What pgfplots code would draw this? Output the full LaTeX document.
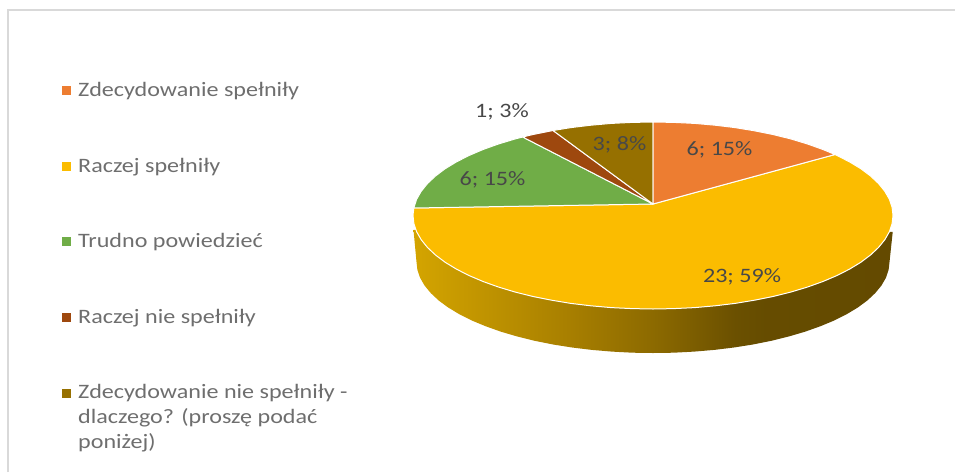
\documentclass[border=0pt]{standalone}
\usepackage{pgfplots}
\pgfplotsset{compat=1.18}
\usepackage{fontspec}
\setmainfont[FakeStretch=1.175]{Carlito}
\definecolor{cOrange}{HTML}{ED7D31}
\definecolor{cYellow}{HTML}{FBBC00}
\definecolor{cGreen}{HTML}{70AD47}
\definecolor{cBrown}{HTML}{9E480E}
\definecolor{cDark}{HTML}{967000}
\definecolor{cLegend}{HTML}{6E6E6E}
\definecolor{cLabel}{HTML}{484848}
\pgfdeclarehorizontalshading{wallshade}{100bp}{
  rgb(0bp)=(0.83,0.645,0);
  rgb(25bp)=(0.83,0.645,0);
  rgb(41bp)=(0.66,0.50,0);
  rgb(50bp)=(0.55,0.415,0);
  rgb(58.5bp)=(0.42,0.315,0);
  rgb(61.5bp)=(0.40,0.30,0);
  rgb(75bp)=(0.39,0.29,0);
  rgb(100bp)=(0.39,0.29,0)}
\begin{document}
\begin{tikzpicture}
\useasboundingbox (0,0) rectangle (955pt,472pt);
\begin{axis}[
  at={(0,0)}, anchor=south west,
  scale only axis, width=955pt, height=472pt,
  xmin=0, xmax=955, ymin=0, ymax=472, y dir=reverse,
  hide axis, clip=false,
]
% frame
\addplot[draw=black!15, line width=2.4pt, line cap=butt] coordinates {(8,472) (8,10) (955,10)};
% wall
\addplot[shading=wallshade, draw=none] coordinates {
(413.5,230) (416.5,262) (417.4,269.9) (420.1,277.8) (424.6,285.6) (430.8,293.1) (438.7,300.5) (448.2,307.5) (459.3,314.2) (471.8,320.5) (485.8,326.3) (501,331.7) (517.3,336.5) (534.7,340.8) (553.1,344.5) (572.1,347.5) (591.8,349.9) (611.9,351.6) (632.4,352.7) (653,353)
(673.6,352.7) (694.1,351.6) (714.2,349.9) (733.9,347.5) (752.9,344.5) (771.3,340.8) (788.7,336.5) (805,331.7) (820.2,326.3) (834.2,320.5) (846.7,314.2) (857.8,307.5) (867.3,300.5) (875.2,293.1) (881.4,285.6) (885.9,277.8) (888.6,269.9) (889.5,262) (892.7,232)
(653,220)} --cycle;
% yellow
\addplot[fill=cYellow, draw=white, line width=1pt, line join=round] coordinates {
(653,204) (835,154.5) (849.6,161.9) (860.8,168.7) (870.5,176) (878.5,183.5) (884.8,191.3) (889.4,199.3) (892.1,207.3) (893,215.5) (892.1,223.7) (889.4,231.7) (884.8,239.7) (878.5,247.5) (870.5,255) (860.8,262.3) (849.6,269.1) (836.8,275.6) (822.7,281.6) (807.3,287.1) (790.7,292.1) (773,296.5) (754.4,300.2) (735.1,303.4) (715.1,305.8) (694.7,307.6) (673.9,308.6) (653,309) (632.1,308.6) (611.3,307.6) (590.9,305.8) (570.9,303.4) (551.6,300.2) (533,296.5) (515.3,292.1) (498.7,287.1) (483.3,281.6) (469.2,275.6) (456.4,269.1) (445.2,262.3) (435.5,255) (427.5,247.5) (421.2,239.7) (416.6,231.7) (413.9,223.7) (413,215.5) (413.8,208)} --cycle;
% green
\addplot[fill=cGreen, draw=white, line width=1pt, line join=round] coordinates {
(653,204) (413.8,208) (416.6,199.3) (421.2,191.3) (427.5,183.5) (435.5,176) (445.2,168.7) (456.4,161.9) (469.2,155.4) (483.3,149.4) (498.7,143.9) (515.3,138.9) (522.7,137)} --cycle;
% brown
\addplot[fill=cBrown, draw=white, line width=1pt, line join=round] coordinates {
(653,204) (522.7,137) (533,134.5) (553,130.5)} --cycle;
% dark gold
\addplot[fill=cDark, draw=white, line width=1pt, line join=round] coordinates {
(653,204) (553,130.5) (570.9,127.6) (590.9,125.2) (611.3,123.4) (632.1,122.4) (653,122)} --cycle;
% orange
\addplot[fill=cOrange, draw=white, line width=1pt, line join=round] coordinates {
(653,204) (653,122) (673.9,122.4) (694.7,123.4) (715.1,125.2) (735.1,127.6) (754.4,130.8) (773,134.5) (790.7,138.9) (807.3,143.9) (822.7,149.4) (835,154.5)} --cycle;
% legend keys
\addplot[only marks, color=cOrange, mark=square*, mark size=4pt] coordinates {(66,90.5)};
\addplot[only marks, color=cYellow, mark=square*, mark size=4pt] coordinates {(66,166)};
\addplot[only marks, color=cGreen, mark=square*, mark size=4pt] coordinates {(66,241)};
\addplot[only marks, color=cBrown, mark=square*, mark size=4pt] coordinates {(66,317)};
\addplot[only marks, color=cDark, mark=square*, mark size=4pt] coordinates {(66,393)};
% legend text
\begin{scope}[every node/.style={anchor=base west, inner sep=0pt, text=cLegend, font=\fontsize{20.5}{25}\selectfont}]
\node at (axis cs:78,96) {Zdecydowanie spełniły};
\node at (axis cs:78,172) {Raczej spełniły};
\node at (axis cs:78,247) {Trudno powiedzieć};
\node at (axis cs:78,323) {Raczej nie spełniły};
\node at (axis cs:78,398.5) {Zdecydowanie nie spełniły -};
\node at (axis cs:78,423.5) {dlaczego? (proszę podać};
\node at (axis cs:78,448.5) {poniżej)};
\end{scope}
% data labels
\begin{scope}[every node/.style={anchor=center, inner sep=0pt, text=cLabel, font=\fontsize{20.5}{23}\selectfont}]
\node at (axis cs:719.5,149.5) {6; 15\%};
\node at (axis cs:742,276.5) {23; 59\%};
\node at (axis cs:492.5,179.5) {6; 15\%};
\node at (axis cs:502,112) {1; 3\%};
\node at (axis cs:619.5,144.5) {3; 8\%};
\end{scope}
\end{axis}
\end{tikzpicture}
\end{document}
